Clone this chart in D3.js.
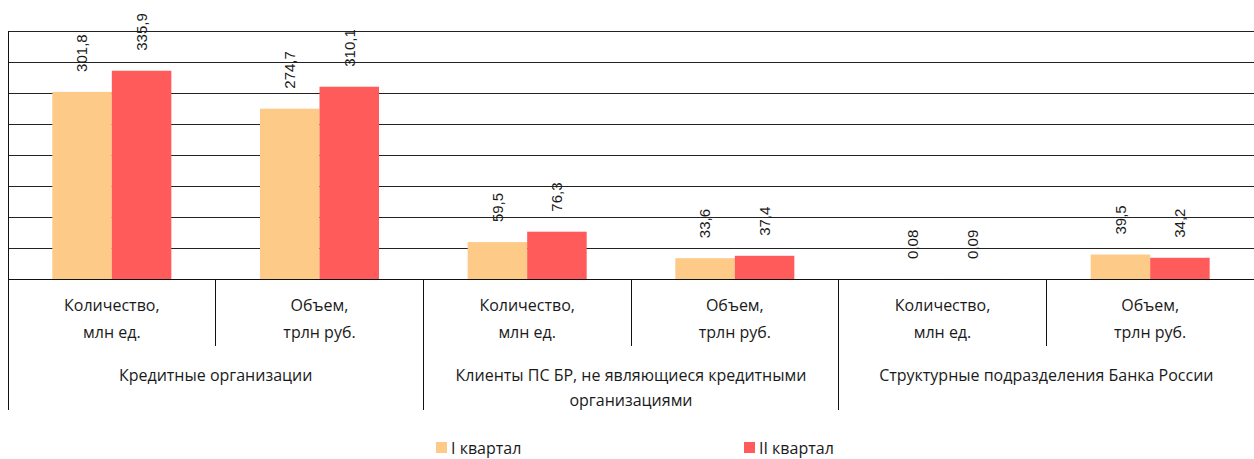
<!DOCTYPE html>
<style>
    body { margin: 0; background: #fff; }
    .grid .domain { display: none; }
    .grid line { stroke: #222; shape-rendering: crispEdges; }
    .cat { font-family: 'Open Sans', sans-serif; font-size: 16px; fill: #1a1a1a; }
    .val { font-family: 'Liberation Sans', Arial, sans-serif; font-size: 15px; fill: #1a1a1a; }
</style>
<body>
<svg width="1254" height="459" id="chart"></svg>
<script src="https://d3js.org/d3.v7.min.js"></script>
<script>

    // data
    var subCats = ["Количество,|млн ед.", "Объем,|трлн руб.",
                   "Количество,|млн ед.", "Объем,|трлн руб.",
                   "Количество,|млн ед.", "Объем,|трлн руб."];
    var groups = ["Кредитные организации",
                  "Клиенты ПС БР, не являющиеся кредитными|организациями",
                  "Структурные подразделения Банка России"];
    var seriesNames = ["I квартал", "II квартал"];
    var q1 = [301.8, 274.7, 59.5, 33.6, 0.08, 39.5];
    var q2 = [335.9, 310.1, 76.3, 37.4, 0.09, 34.2];
    var yTicks = [0, 50, 100, 150, 200, 250, 300, 350, 400];

    var colors = ["#FECA88", "#FF5B5B"];

    var svg = d3.select("svg"),
        margin = {top: 31, right: 0, bottom: 180, left: 8},
        width = +svg.attr("width") - margin.left - margin.right,
        height = +svg.attr("height") - margin.top - margin.bottom,
        g = svg.append("g").attr("transform", "translate(" + margin.left + "," + margin.top + ")");

    var x0 = d3.scaleBand()
        .domain(d3.range(subCats.length))
        .range([0, width]);

    var x1 = d3.scaleBand()
        .domain(seriesNames)
        .range([0, x0.bandwidth()])
        .paddingOuter(0.745);

    var y = d3.scaleLinear()
        .domain([0, 400])
        .range([height, 0]);

    var z = d3.scaleOrdinal().domain(seriesNames).range(colors);

    var fmt = function(v) {
        return (v < 1 ? d3.format(".2f")(v) : d3.format(".1f")(v)).replace(".", ",");
    };

    // gridlines
    g.append("g")
        .attr("class", "grid")
        .call(d3.axisLeft(y).tickValues(yTicks).tickSize(-width).tickFormat(""));

    var rows = subCats.map(function(d, i) { return {i: i, vals: [q1[i], q2[i]]}; });

    var cat = g.append("g")
        .selectAll("g")
        .data(rows)
        .enter().append("g")
        .attr("transform", function(d) { return "translate(" + x0(d.i) + ",0)"; });

    cat.selectAll("rect")
        .data(function(d) { return d.vals.map(function(v, k) { return {key: seriesNames[k], value: v}; }); })
        .enter().append("rect")
        .attr("x", function(d) { return x1(d.key); })
        .attr("width", x1.bandwidth())
        .attr("y", function(d) { return y(d.value); })
        .attr("height", function(d) { return height - y(d.value); })
        .attr("fill", function(d) { return z(d.key); });

    cat.selectAll("text")
        .data(function(d) { return d.vals.map(function(v, k) { return {key: seriesNames[k], value: v}; }); })
        .enter().append("text")
        .attr("class", "val")
        .attr("transform", function(d) {
            return "translate(" + (x1(d.key) + x1.bandwidth() / 2) + "," + (y(d.value) - 20) + ") rotate(-90)";
        })
        .attr("dy", "0.35em")
        .attr("text-anchor", "start")
        .text(function(d) { return fmt(d.value); });

    // baseline
    g.append("line")
        .attr("x1", 0).attr("x2", width)
        .attr("y1", height).attr("y2", height)
        .attr("stroke", "#111")
        .attr("shape-rendering", "crispEdges");

    // left axis line
    g.append("line")
        .attr("x1", 0).attr("x2", 0)
        .attr("y1", 0).attr("y2", height + 131)
        .attr("stroke", "#111")
        .attr("shape-rendering", "crispEdges");

    // dividers
    d3.range(1, subCats.length).forEach(function(i) {
        g.append("line")
            .attr("x1", x0(i)).attr("x2", x0(i))
            .attr("y1", height).attr("y2", height + (i % 2 === 0 ? 131 : 67))
            .attr("stroke", "#111")
            .attr("shape-rendering", "crispEdges");
    });

    // sub-category labels
    cat.append("text")
        .attr("class", "cat")
        .attr("text-anchor", "middle")
        .selectAll("tspan")
        .data(function(d) { return subCats[d.i].split("|"); })
        .enter().append("tspan")
        .attr("x", x0.bandwidth() / 2)
        .attr("y", function(d, k) { return height + 32 + k * 27; })
        .text(function(d) { return d; });

    // group labels
    g.append("g")
        .selectAll("text")
        .data(groups)
        .enter().append("text")
        .attr("class", "cat")
        .attr("text-anchor", "middle")
        .selectAll("tspan")
        .data(function(d, i) { return d.split("|").map(function(s) { return {s: s, i: i}; }); })
        .enter().append("tspan")
        .attr("x", function(d) { return x0(d.i * 2) + x0.bandwidth(); })
        .attr("y", function(d, k) { return height + 102 + k * 25; })
        .text(function(d) { return d.s; });

    // legend
    var legend = svg.append("g")
        .selectAll("g")
        .data(seriesNames)
        .enter().append("g")
        .attr("transform", function(d, i) { return "translate(" + (436 + i * 308) + ",442)"; });

    legend.append("rect")
        .attr("width", 11)
        .attr("height", 11)
        .attr("fill", z);

    legend.append("text")
        .attr("class", "cat")
        .attr("x", 15)
        .attr("y", 12)
        .text(function(d) { return d; });

</script>
</body>
